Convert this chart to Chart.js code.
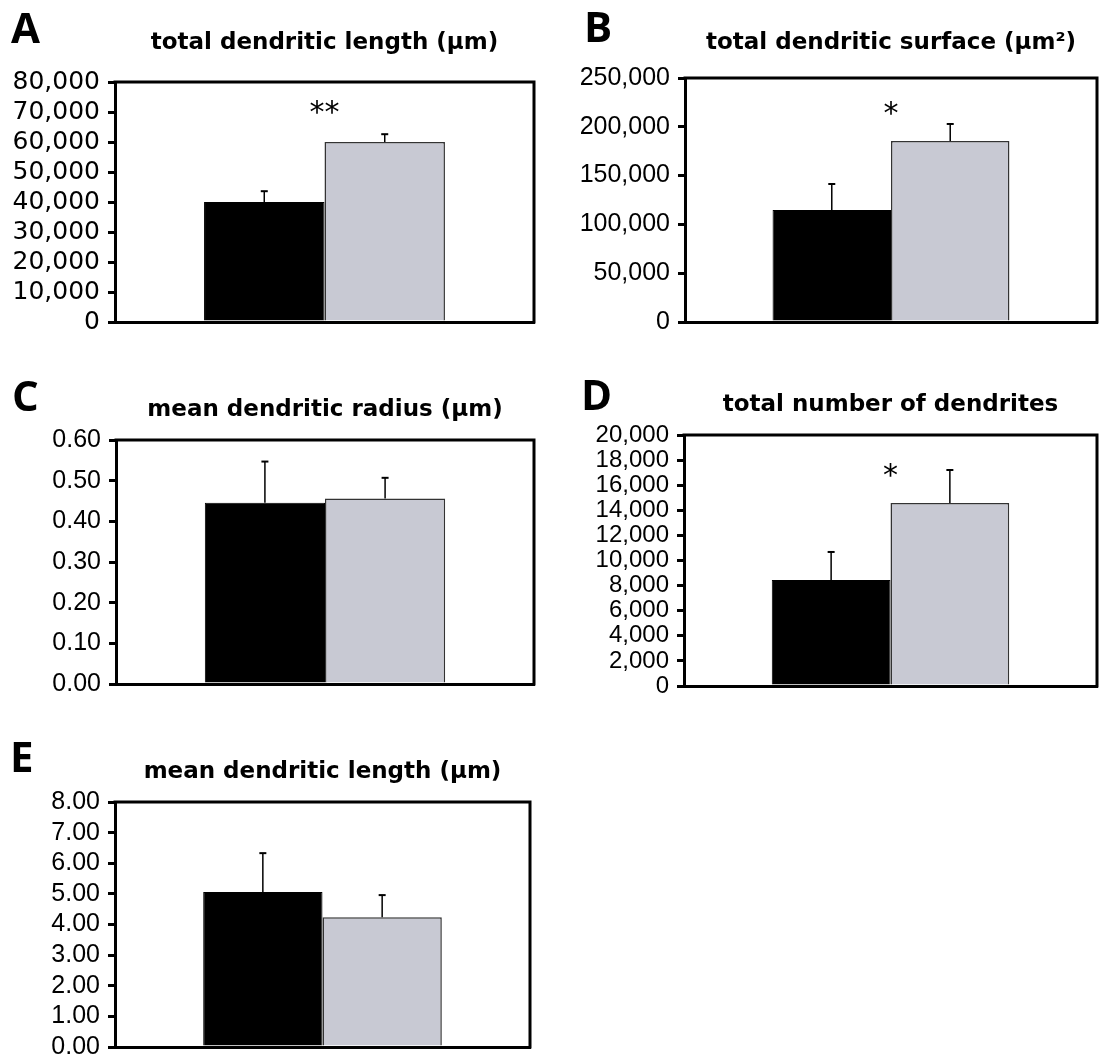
<!DOCTYPE html>
<html>
<head>
<meta charset="utf-8">
<script src="https://cdn.jsdelivr.net/npm/chart.js@4.4.0/dist/chart.umd.min.js"></script>
<style>
    html, body { margin: 0; padding: 0; background: #fff; }
    body { width: 1099px; height: 1057px; position: relative; overflow: hidden; }
    canvas { position: absolute; }
</style>
</head>
<body>
<canvas id="panel0"></canvas>
<canvas id="panel1"></canvas>
<canvas id="panel2"></canvas>
<canvas id="panel3"></canvas>
<canvas id="panel4"></canvas>
<script>
// ===== Data =====
const panelLetters = ['A', 'B', 'C', 'D', 'E'];
const panelTitles = [
    'total dendritic length (μm)',
    'total dendritic surface (μm²)',
    'mean dendritic radius (μm)',
    'total number of dendrites',
    'mean dendritic length (μm)'
];
const groups = ['group 1', 'group 2'];
const meanBlack = [40000, 114800, 0.446, 8450, 5.06];
const semBlack = [3600, 26600, 0.101, 2230, 1.27];
const meanGray = [60000, 185400, 0.456, 14580, 4.24];
const semGray = [2600, 17500, 0.051, 2630, 0.72];
const sigMarks = ['**', '*', '', '*', ''];
const sigLevel = [72500, 222000, null, 17400, null];
const yMax = [80000, 250000, 0.6, 20000, 8];
const yStep = [10000, 50000, 0.1, 2000, 1];
const ticksA = ['0', '10,000', '20,000', '30,000', '40,000', '50,000', '60,000', '70,000', '80,000'];
const ticksB = ['0', '50,000', '100,000', '150,000', '200,000', '250,000'];
const ticksC = ['0.00', '0.10', '0.20', '0.30', '0.40', '0.50', '0.60'];
const ticksD = ['0', '2,000', '4,000', '6,000', '8,000', '10,000', '12,000', '14,000', '16,000', '18,000', '20,000'];
const ticksE = ['0.00', '1.00', '2.00', '3.00', '4.00', '5.00', '6.00', '7.00', '8.00'];
const tickLabels = [ticksA, ticksB, ticksC, ticksD, ticksE];

// ===== Layout (page pixels) =====
// canvas: [x, y, w, h], area: [left, top, right, bottom]
const layout = [
    { canvas: [0, 0, 550, 345],     area: [115, 82, 534, 322],   titleY: 43,  letter: [11, 43],   tickFont: ['"DejaVu Sans"', 25] },
    { canvas: [550, 0, 549, 345],   area: [685, 78, 1097, 322],  titleY: 43,  letter: [584, 42],  tickFont: ['"Liberation Sans"', 25] },
    { canvas: [0, 345, 550, 360],   area: [116, 440, 534, 684],  titleY: 410, letter: [12, 411],  tickFont: ['"Liberation Sans"', 25] },
    { canvas: [550, 345, 549, 360], area: [684, 435, 1097, 686], titleY: 405, letter: [581, 410], tickFont: ['"Liberation Sans"', 24] },
    { canvas: [0, 705, 550, 352],   area: [115, 802, 530, 1047], titleY: 772, letter: [10, 772],  tickFont: ['"Liberation Sans"', 25] }
];

const TITLE_SIZE = 23;
const TITLE_LINE = TITLE_SIZE * 1.2;

Chart.defaults.font.family = '"DejaVu Sans", sans-serif';
Chart.defaults.color = '#000';

// ===== Plugins =====
const panelDecor = {
    id: 'panelDecor',
    afterDatasetsDraw(chart, args, opts) {
        const ctx = chart.ctx;
        const area = chart.chartArea;
        const y = chart.scales.y;
        const bars = chart.data.datasets.map((ds, i) => chart.getDatasetMeta(i).data[0]);

        ctx.save();
        // error bars (upper only)
        ctx.strokeStyle = '#000';
        chart.data.datasets.forEach((ds, i) => {
            const bar = bars[i];
            const top = y.getPixelForValue(ds.data[0] + opts.sems[i]);
            ctx.lineWidth = 1.5;
            ctx.beginPath();
            ctx.moveTo(bar.x, bar.y);
            ctx.lineTo(bar.x, top);
            ctx.stroke();
            ctx.lineWidth = 2;
            ctx.beginPath();
            ctx.moveTo(bar.x - 3.5, top);
            ctx.lineTo(bar.x + 3.5, top);
            ctx.stroke();
        });

        // top and right frame
        ctx.lineWidth = 3;
        ctx.lineCap = 'square';
        ctx.beginPath();
        ctx.moveTo(area.left, area.top);
        ctx.lineTo(area.right, area.top);
        ctx.lineTo(area.right, area.bottom);
        ctx.stroke();

        // significance stars
        if (opts.mark) {
            const size = 30;
            ctx.fillStyle = '#000';
            ctx.font = size + 'px "DejaVu Sans"';
            ctx.textAlign = 'center';
            ctx.textBaseline = 'alphabetic';
            const cx = (bars[0].x + bars[1].x) / 2;
            const cy = y.getPixelForValue(opts.level);
            ctx.fillText(opts.mark, cx, cy + 0.59 * size);
        }

        // panel letter
        ctx.fillStyle = '#000';
        ctx.font = 'bold 42px "Open Sans"';
        ctx.textAlign = 'left';
        ctx.textBaseline = 'alphabetic';
        ctx.fillText(opts.letter, opts.letterX, opts.letterY);
        ctx.restore();
    }
};

// ===== Build Panels =====
function buildPanel(i) {
    const L = layout[i];
    const [cx, cy, cw, ch] = L.canvas;
    const [al, at, ar, ab] = L.area;
    const canvas = document.getElementById('panel' + i);
    canvas.width = cw;
    canvas.height = ch;
    canvas.style.left = cx + 'px';
    canvas.style.top = cy + 'px';

    const padTop = (L.titleY - cy) - TITLE_LINE / 2;
    const titleBottom = (at - cy) - padTop - TITLE_LINE;

    return new Chart(canvas.getContext('2d'), {
        type: 'bar',
        data: {
            labels: [''],
            datasets: [
                {
                    label: groups[0],
                    data: [meanBlack[i]],
                    backgroundColor: '#000000',
                    borderColor: '#000000',
                    borderWidth: 1,
                    categoryPercentage: 0.575,
                    barPercentage: 1
                },
                {
                    label: groups[1],
                    data: [meanGray[i]],
                    backgroundColor: '#c8c9d3',
                    borderColor: '#333333',
                    borderWidth: 1.5,
                    categoryPercentage: 0.575,
                    barPercentage: 1
                }
            ]
        },
        options: {
            responsive: false,
            animation: false,
            devicePixelRatio: 1,
            events: [],
            layout: {
                padding: { top: padTop, left: 0, right: (cx + cw) - ar, bottom: (cy + ch) - ab }
            },
            plugins: {
                legend: { display: false },
                tooltip: { enabled: false },
                title: {
                    display: true,
                    text: panelTitles[i],
                    fullSize: false,
                    color: '#000',
                    font: { size: TITLE_SIZE, weight: 'bold', lineHeight: 1.2 },
                    padding: { top: 0, bottom: titleBottom }
                },
                panelDecor: {
                    sems: [semBlack[i], semGray[i]],
                    mark: sigMarks[i],
                    level: sigLevel[i],
                    letter: panelLetters[i],
                    letterX: L.letter[0] - cx,
                    letterY: L.letter[1] - cy
                }
            },
            scales: {
                x: {
                    ticks: { display: false },
                    grid: { display: false },
                    border: { display: true, color: '#000', width: 3 },
                    afterFit: (s) => { s.height = 0; }
                },
                y: {
                    min: 0,
                    max: yMax[i],
                    ticks: {
                        stepSize: yStep[i],
                        padding: 8,
                        color: '#000',
                        font: { family: L.tickFont[0], size: L.tickFont[1], lineHeight: 0.8 },
                        callback: (v, idx) => tickLabels[i][idx]
                    },
                    grid: {
                        display: true,
                        drawOnChartArea: false,
                        drawTicks: true,
                        tickLength: 7,
                        color: '#000',
                        lineWidth: 3
                    },
                    border: { display: true, color: '#000', width: 3 },
                    afterFit: (s) => {
                        s.width = al - cx;
                        s.paddingTop = 0;
                        s.paddingBottom = 0;
                    }
                }
            }
        },
        plugins: [panelDecor]
    });
}

const charts = panelLetters.map((l, i) => buildPanel(i));
</script>
</body>
</html>
